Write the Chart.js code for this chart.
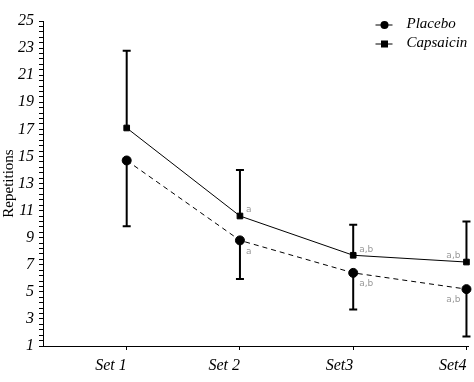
<!DOCTYPE html>
<html>
<head>
<meta charset="utf-8">
<script src="https://cdn.jsdelivr.net/npm/chart.js@4/dist/chart.umd.min.js"></script>
<style>
  html, body { margin: 0; padding: 0; background: #fff; }
  #wrap { width: 474px; height: 382px; position: relative; }
</style>
</head>
<body>
<div id="wrap"><canvas id="c" width="474" height="382"></canvas></div>
<script>
const categories = ['Set 1', 'Set 2', 'Set3', 'Set4'];
const categoryPositions = [1, 2, 3, 4];
const placebo = [14.7, 8.8, 6.4, 5.2];
const placeboErr = [4.85, 2.85, 2.7, 3.5];
const capsaicin = [17.1, 10.6, 7.7, 7.2];
const capsaicinErr = [5.7, 3.4, 2.25, 3.0];
const placeboSig = ['', 'a', 'a,b', 'a,b'];
const capsaicinSig = ['', 'a', 'a,b', 'a,b'];
const yTickLabels = [1, 3, 5, 7, 9, 11, 13, 15, 17, 19, 21, 23, 25];
const yMinorStep = 0.4;
const seriesNames = ['Placebo', 'Capsaicin'];

const tickFont = { family: "'Liberation Serif', serif", style: 'italic', size: 16 };

const errorBarPlugin = {
  id: 'errorBars',
  afterDatasetsDraw(chart) {
    const ctx = chart.ctx;
    const xs = chart.scales.x, ys = chart.scales.y;
    ctx.save();
    ctx.strokeStyle = '#000';
    ctx.lineWidth = 2;
    const cap = 4;
    categoryPositions.forEach((p, i) => {
      const x = xs.getPixelForValue(p);
      let y0 = ys.getPixelForValue(capsaicin[i]);
      let y1 = ys.getPixelForValue(capsaicin[i] + capsaicinErr[i]);
      ctx.beginPath(); ctx.moveTo(x, y0); ctx.lineTo(x, y1);
      ctx.moveTo(x - cap, y1); ctx.lineTo(x + cap, y1); ctx.stroke();
      y0 = ys.getPixelForValue(placebo[i]);
      y1 = ys.getPixelForValue(placebo[i] - placeboErr[i]);
      ctx.beginPath(); ctx.moveTo(x, y0); ctx.lineTo(x, y1);
      ctx.moveTo(x - cap, y1); ctx.lineTo(x + cap, y1); ctx.stroke();
    });
    ctx.fillStyle = '#999';
    ctx.font = "9px 'DejaVu Sans', sans-serif";
    ctx.textBaseline = 'middle';
    categoryPositions.forEach((p, i) => {
      const x = xs.getPixelForValue(p);
      const last = i === categoryPositions.length - 1;
      ctx.textAlign = last ? 'right' : 'left';
      const dx = last ? -6 : 6;
      if (capsaicinSig[i]) {
        ctx.fillText(capsaicinSig[i], x + dx, ys.getPixelForValue(capsaicin[i]) - 6);
      }
      if (placeboSig[i]) {
        ctx.fillText(placeboSig[i], x + dx, ys.getPixelForValue(placebo[i]) + 11);
      }
    });
    ctx.restore();
  }
};

const legendPlugin = {
  id: 'customLegend',
  afterDraw(chart) {
    const ctx = chart.ctx;
    const a = chart.chartArea;
    const mx = a.right - 84;
    const rows = [a.top + 4, a.top + 23];
    ctx.save();
    ctx.strokeStyle = '#000';
    ctx.fillStyle = '#000';
    ctx.lineWidth = 1;
    rows.forEach((y, i) => {
      ctx.beginPath(); ctx.moveTo(mx - 9, y); ctx.lineTo(mx + 8, y); ctx.stroke();
      if (i === 0) { ctx.beginPath(); ctx.arc(mx, y, 4, 0, Math.PI * 2); ctx.fill(); }
      else { ctx.fillRect(mx - 3.5, y - 3.5, 7, 7); }
    });
    ctx.font = "italic 15px 'Liberation Serif', serif";
    ctx.textAlign = 'left';
    ctx.textBaseline = 'middle';
    ctx.fillText(seriesNames[0], mx + 22, rows[0] - 1);
    ctx.fillText(seriesNames[1], mx + 22, rows[1] - 1);
    ctx.restore();
  }
};

new Chart(document.getElementById('c'), {
  type: 'line',
  data: {
    datasets: [
      {
        label: seriesNames[0],
        data: categoryPositions.map((p, i) => ({ x: p, y: placebo[i] })),
        borderColor: '#000', backgroundColor: '#000',
        borderWidth: 1, borderDash: [5, 4],
        pointStyle: 'circle', pointRadius: 4.5, pointHoverRadius: 4.5,
        tension: 0, clip: false
      },
      {
        label: seriesNames[1],
        data: categoryPositions.map((p, i) => ({ x: p, y: capsaicin[i] })),
        borderColor: '#000', backgroundColor: '#000',
        borderWidth: 1,
        pointStyle: 'rect', pointRadius: 4, pointHoverRadius: 4,
        tension: 0, clip: false
      }
    ]
  },
  options: {
    responsive: false,
    animation: false,
    events: [],
    layout: { padding: { top: 21, right: 4, left: 0, bottom: 0 } },
    plugins: { legend: { display: false }, tooltip: { enabled: false } },
    scales: {
      x: {
        type: 'linear',
        min: 0.261, max: 4.018,
        afterBuildTicks(scale) { scale.ticks = categoryPositions.map(v => ({ value: v })); },
        afterFit(scale) { scale.height = 36; },
        border: { color: '#000', width: 1 },
        grid: { drawOnChartArea: false, color: '#000', tickLength: 4 },
        ticks: {
          autoSkip: false, maxRotation: 0, align: 'end', padding: 6,
          color: '#000', font: tickFont,
          callback(v) { const i = categoryPositions.indexOf(v); return i >= 0 ? categories[i] : ''; }
        }
      },
      y: {
        type: 'linear',
        min: 1, max: 25,
        afterBuildTicks(scale) {
          const t = [];
          for (let v = 1; v <= 25.0001; v += yMinorStep) t.push({ value: Math.round(v * 10) / 10 });
          scale.ticks = t;
        },
        afterFit(scale) { scale.width = 43; },
        border: { color: '#000', width: 1 },
        grid: { drawOnChartArea: false, color: '#000', tickLength: 4 },
        title: {
          display: true, text: 'Repetitions', color: '#000',
          font: { family: "'Liberation Serif', serif", size: 15 }, padding: { top: 0, bottom: 1 }
        },
        ticks: {
          autoSkip: false, padding: 5, color: '#000', font: tickFont,
          callback(v) { const r = Math.round(v * 10) / 10; return yTickLabels.includes(r) ? String(r) : ''; }
        }
      }
    }
  },
  plugins: [errorBarPlugin, legendPlugin]
});
</script>
</body>
</html>
